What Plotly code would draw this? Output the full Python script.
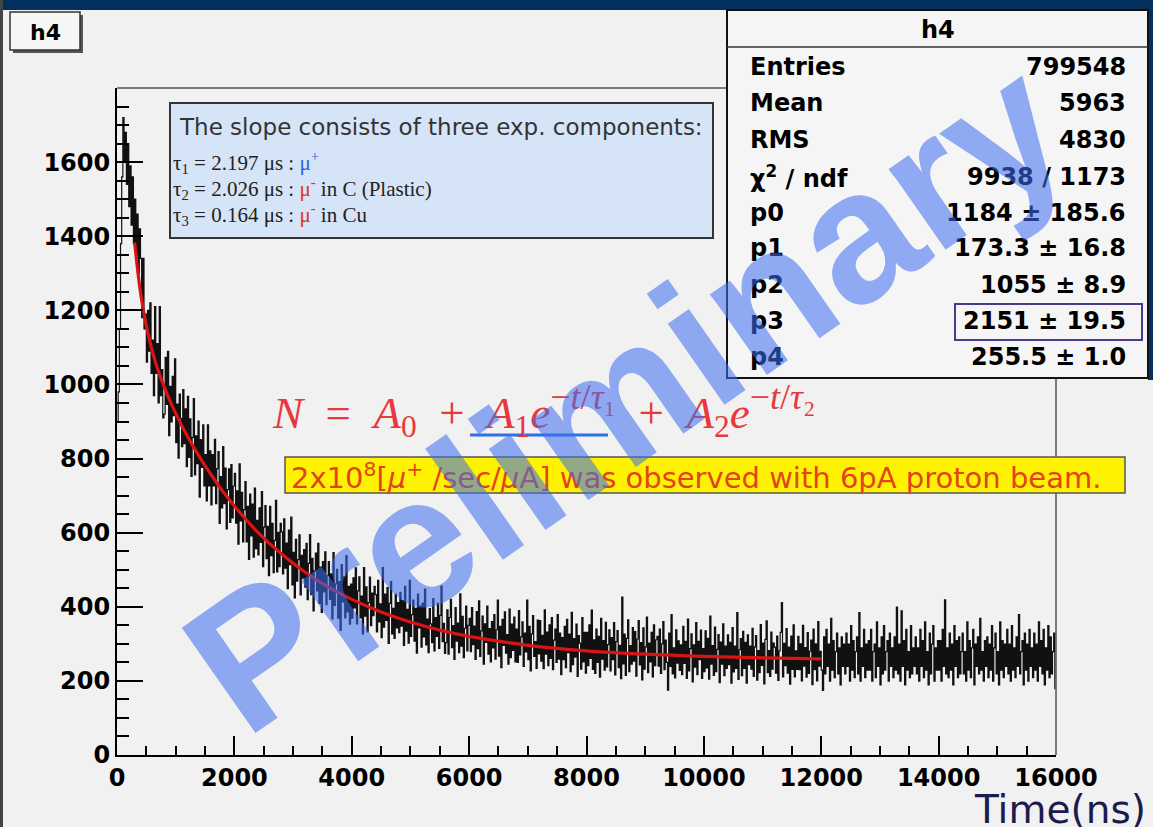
import plotly.graph_objects as go

# ---------------- data ----------------
bin_width = 20  # ns
counts = [
    900, 980, 1150, 1380, 1560, 1720, 1600, 1680, 1540, 1650, 1480, 1590, 1430, 1560, 1380, 1500, 1350, 1460, 1300, 1420,
    1340, 1180, 1340, 1150, 1190, 1060, 1200, 1090, 1220, 1030, 1120, 970, 1210, 1030, 1110, 950, 1210, 970, 1040, 910,
    920, 1073, 946, 1089, 862, 995, 899, 1022, 916, 1069, 843, 947, 801, 974, 908, 832, 986, 840, 934, 778,
    968, 803, 907, 752, 857, 962, 756, 861, 786, 901, 696, 851, 776, 891, 726, 811, 686, 891, 726, 821,
    675, 811, 726, 852, 678, 773, 819, 625, 751, 667, 832, 678, 774, 610, 716, 772, 628, 784, 640, 726,
    760, 626, 713, 569, 786, 632, 709, 575, 662, 738, 575, 671, 528, 704, 591, 677, 534, 720, 557, 633,
    540, 667, 574, 711, 508, 615, 673, 530, 617, 484, 671, 538, 625, 492, 579, 687, 494, 601, 508, 625,
    602, 489, 637, 504, 572, 449, 607, 514, 642, 459, 547, 424, 582, 469, 527, 594, 432, 539, 477, 554,
    453, 571, 419, 517, 595, 433, 531, 389, 497, 545, 443, 571, 409, 507, 385, 522, 440, 548, 406, 484,
    522, 420, 489, 367, 546, 404, 462, 501, 369, 468, 336, 514, 413, 481, 370, 538, 386, 455, 353, 461,
    369, 478, 397, 505, 354, 443, 481, 370, 429, 327, 506, 375, 454, 332, 411, 480, 349, 437, 376, 455,
    433, 332, 471, 359, 408, 317, 506, 345, 434, 363, 452, 301, 409, 468, 327, 396, 315, 434, 343, 411,
    330, 439, 348, 417, 296, 455, 334, 393, 302, 471, 320, 379, 418, 307, 396, 275, 434, 343, 402, 291,
    410, 319, 448, 297, 367, 276, 395, 354, 303, 422, 281, 371, 320, 409, 288, 377, 456, 306, 355, 274,
    303, 392, 272, 371, 420, 290, 349, 258, 398, 307, 356, 276, 435, 294, 374, 263, 342, 402, 281, 350,
    369, 279, 398, 298, 348, 258, 387, 287, 416, 266, 335, 375, 245, 354, 304, 402, 272, 341, 251, 360,
    289, 379, 259, 338, 418, 267, 347, 236, 366, 296, 386, 275, 325, 245, 394, 263, 353, 282, 372, 251,
    340, 250, 390, 270, 319, 359, 239, 329, 278, 418, 257, 347, 227, 327, 376, 266, 306, 234, 364, 273,
    363, 253, 323, 233, 392, 272, 332, 241, 351, 261, 371, 230, 310, 340, 250, 379, 259, 329, 217, 317,
    257, 347, 236, 366, 276, 326, 225, 385, 244, 314, 264, 353, 212, 322, 302, 232, 371, 251, 331, 221,
    331, 241, 351, 261, 391, 231, 311, 220, 340, 250, 320, 210, 369, 259, 309, 229, 358, 238, 298, 338,
    227, 317, 257, 357, 216, 306, 336, 236, 296, 206, 426, 246, 326, 215, 315, 365, 225, 295, 245, 344,
    253, 333, 213, 313, 363, 243, 303, 203, 343, 232, 292, 372, 222, 302, 251, 331, 211, 351, 241, 311,
    320, 240, 340, 220, 300, 360, 230, 310, 250, 175, 329, 239, 379, 219, 289, 208, 338, 248, 308, 228,
    297, 217, 347, 247, 307, 207, 367, 227, 287, 327, 197, 297, 237, 357, 217, 307, 257, 337, 207, 287,
    225, 335, 235, 315, 205, 375, 245, 295, 215, 345, 225, 285, 325, 195, 305, 245, 354, 214, 294, 234,
    324, 244, 304, 194, 344, 224, 294, 234, 384, 204, 284, 314, 214, 334, 234, 304, 194, 324, 244, 294,
    232, 342, 212, 292, 322, 202, 282, 222, 352, 242, 302, 192, 312, 362, 222, 282, 212, 332, 232, 302,
    291, 221, 321, 201, 281, 331, 411, 211, 301, 241, 341, 221, 291, 191, 321, 231, 351, 211, 281, 231,
    320, 230, 300, 200, 350, 240, 290, 210, 330, 220, 280, 310, 190, 340, 230, 300, 200, 360, 240, 280,
    229, 174, 319, 219, 339, 239, 299, 199, 369, 229, 309, 209, 279, 329, 219, 289, 189, 319, 239, 299,
    219, 329, 239, 299, 199, 349, 229, 309, 209, 279, 319, 219, 384, 199, 289, 239, 339, 209, 299, 229,
    309, 229, 339, 199, 279, 299, 209, 359, 239, 289, 189, 319, 219, 349, 229, 279, 309, 199, 329, 239,
    289, 209, 319, 229, 399, 219, 299, 199, 389, 239, 309, 189, 339, 229, 279, 209, 349, 219, 289, 239,
    319, 219, 289, 199, 339, 239, 309, 209, 359, 229, 279, 189, 329, 219, 299, 349, 199, 289, 229, 309,
    229, 309, 199, 339, 239, 419, 219, 289, 209, 329, 229, 299, 189, 349, 239, 309, 209, 319, 219, 279,
    329, 219, 279, 199, 359, 229, 309, 209, 289, 339, 189, 299, 239, 319, 219, 369, 229, 279, 199, 309,
    239, 319, 209, 299, 229, 349, 199, 289, 329, 219, 279, 189, 359, 229, 309, 209, 299, 239, 339, 219,
    299, 199, 349, 229, 289, 209, 319, 239, 379, 219, 279, 309, 189, 329, 229, 299, 199, 339, 239, 289,
    209, 329, 229, 299, 199, 359, 239, 309, 219, 339, 189, 289, 229, 349, 209, 319, 219, 279, 329, 179,
]
bin_centers = [bin_width * (i + 0.5) for i in range(len(counts))]

fit_t = [300, 400, 500, 600, 700, 800, 1000, 1200, 1400, 1600, 1800, 2000,
         2400, 2800, 3200, 3600, 4000, 4500, 5000, 5500, 6000, 7000, 8000,
         9000, 10000, 11000, 12000]
fit_n = [1383, 1249, 1158, 1091, 1038, 995, 922, 860, 806, 757, 712, 672,
         601, 543, 494, 453, 420, 386, 359, 337, 320, 296, 281,
         272, 266, 262, 259.5]

x_ticks = [0, 2000, 4000, 6000, 8000, 10000, 12000, 14000, 16000]
y_ticks = [0, 200, 400, 600, 800, 1000, 1200, 1400, 1600]

stats_title = "h4"
stats_labels = ["Entries", "Mean", "RMS", "χ<sup>2</sup> / ndf", "p0", "p1", "p2", "p3", "p4"]
stats_values = ["799548", "5963", "4830", "9938 / 1173", "1184 ± 185.6",
                "173.3 ± 16.8", "1055 ± 8.9", "2151 ± 19.5", "255.5 ± 1.0"]

# ---------------- geometry helpers ----------------
W, H = 1153, 827
L, R, T, B = 117, 1056, 88, 755


def px(x):
    return (x - L) / (R - L)


def py(y):
    return (B - y) / (B - T)


SANS = "DejaVu Sans, Liberation Sans, Arial, sans-serif"
ARIAL = "Liberation Sans, Arial, Helvetica, sans-serif"
SERIF = "Liberation Serif, Times New Roman, serif"

fig = go.Figure()
fig.add_trace(go.Scatter(
    x=bin_centers, y=counts, mode="lines", line=dict(color="#111111", width=1.2, shape="hvh"),
    hoverinfo="skip", showlegend=False))
fig.add_trace(go.Scatter(
    x=fit_t, y=fit_n, mode="lines", line=dict(color="#d81414", width=3.2, shape="spline", smoothing=1.0),
    hoverinfo="skip", showlegend=False))

shapes = []


def rect(x0, y0, x1, y1, fill=None, line=None, lw=0):
    shapes.append(dict(type="rect", xref="paper", yref="paper",
                       x0=px(x0), x1=px(x1), y0=py(y1), y1=py(y0),
                       fillcolor=fill if fill else "rgba(0,0,0,0)",
                       line=dict(color=line if line else "rgba(0,0,0,0)", width=lw),
                       layer="above"))


def hline(x0, x1, y, color, lw):
    shapes.append(dict(type="line", xref="paper", yref="paper",
                       x0=px(x0), x1=px(x1), y0=py(y), y1=py(y),
                       line=dict(color=color, width=lw), layer="above"))


# slide decorations
rect(0, 0, W, 10, fill="#04305e")
rect(1148, 0, W, 380, fill="#04305e")
rect(0, 0, 3, H, fill="#444444")

# frame top / right
hline(L, R, T, "#555555", 1.5)
shapes.append(dict(type="line", xref="paper", yref="paper", x0=1, x1=1, y0=0, y1=1,
                   line=dict(color="#555555", width=1.5), layer="above"))

# h4 title box with shadow
rect(13, 15, 83, 53, fill="#555555")
rect(10, 12, 80, 50, fill="#f6f6f6", line="#333333", lw=1.5)

# blue text box
rect(170, 103, 713, 238, fill="#d6e4f8", line="#333333", lw=2)

# yellow box
rect(285, 457, 1125, 493, fill="#fff200", line="#555555", lw=1.5)

# stats box
rect(727, 10, 1148, 378, fill="#f5f5f5", line="#111111", lw=2)
hline(727, 1148, 47, "#333333", 1.5)
rect(955, 304, 1142, 340, line="#4a3a8c", lw=2)

# underline in formula
hline(470, 608, 435, "#2f6fe8", 3)

ann = []


def text(x, y, s, size, color="black", family=SANS, xanchor="left", weight="normal", **kw):
    d = dict(x=px(x), y=py(y), xref="paper", yref="paper", text=s, showarrow=False,
             xanchor=xanchor, yanchor="middle",
             font=dict(size=size, color=color, family=family, weight=weight))
    d.update(kw)
    ann.append(d)


text(45, 32, "h4", 22, xanchor="center", weight="bold")

# stats text
text(938, 30, stats_title, 24, xanchor="center", weight="bold")
row_y = [67, 103, 140, 177, 213, 248, 285, 321, 357]
for lab, val, yy in zip(stats_labels, stats_values, row_y):
    text(748, yy, lab, 24, weight="bold")
    text(1128, yy, val, 24, weight="bold", xanchor="right")

# blue box text
text(177, 127, "The slope consists of three exp. components:", 23, color="#333333")
text(171, 162, "τ<sub>1</sub> = 2.197 μs : <span style='color:#2a62e0'>μ<sup>+</sup></span>", 21,
     color="#222222", family=SERIF)
text(171, 188, "τ<sub>2</sub> = 2.026 μs : <span style='color:#e03020'>μ<sup>-</sup></span> in C (Plastic)", 21,
     color="#222222", family=SERIF)
text(171, 214, "τ<sub>3</sub> = 0.164 μs : <span style='color:#e03020'>μ<sup>-</sup></span> in Cu", 21,
     color="#222222", family=SERIF)

# formula
sp = "\u2002"
supA = "<sup><span style='font-size:36px'>−<i>t</i>/<i>τ</i>₁</span></sup>"
supB = "<sup><span style='font-size:36px'>−<i>t</i>/<i>τ</i>₂</span></sup>"
formula = (f"<i>N</i>{sp}={sp}<i>A</i><sub>0</sub>{sp}+{sp}<i>A</i><sub>1</sub><i>e</i>"
           f"{supA}{sp}+{sp}<i>A</i><sub>2</sub><i>e</i>{supB}")
text(270, 410, formula, 45, color="#e8383d", family=SERIF)

# yellow box text
text(289, 476, "2x10<sup>8</sup>[<i>μ</i><sup>+</sup> /sec/<i>μ</i>A] was observed with 6pA proton beam.",
     29, color="#e4421c")

# axis title
text(1148, 809, "Time(ns)", 39, color="#1c1c4c", xanchor="right")

# watermark
ann.append(dict(x=px(625), y=py(395), xref="paper", yref="paper", text="Preliminary",
                showarrow=False, xanchor="center", yanchor="middle", textangle=-35,
                opacity=0.55,
                font=dict(size=187, color="rgb(60,110,240)", family=ARIAL, weight="bold")))

tickfont = dict(size=24, family=SANS, color="black", weight="bold")
fig.update_layout(
    width=W, height=H,
    margin=dict(l=L, r=W - R, t=T, b=H - B, pad=0),
    paper_bgcolor="#f1f1f1", plot_bgcolor="#f1f1f1",
    shapes=shapes, annotations=ann, showlegend=False,
    xaxis=dict(range=[0, 16000], tickvals=x_ticks, ticktext=[str(v) for v in x_ticks],
               ticks="inside", ticklen=19, tickwidth=1.5, tickcolor="black",
               minor=dict(tickmode="linear", tick0=0, dtick=500, ticks="inside", ticklen=9,
                          tickwidth=1.5, tickcolor="black"),
               showline=True, linecolor="black", linewidth=2, showgrid=False, zeroline=False,
               tickfont=tickfont),
    yaxis=dict(range=[0, 1800], tickvals=y_ticks, ticktext=[str(v) for v in y_ticks],
               ticks="inside", ticklen=26, tickwidth=1.5, tickcolor="black",
               minor=dict(tickmode="linear", tick0=0, dtick=50, ticks="inside", ticklen=12,
                          tickwidth=1.5, tickcolor="black"),
               showline=True, linecolor="black", linewidth=2, showgrid=False, zeroline=False,
               tickfont=tickfont),
)

fig.write_html("out.html")
